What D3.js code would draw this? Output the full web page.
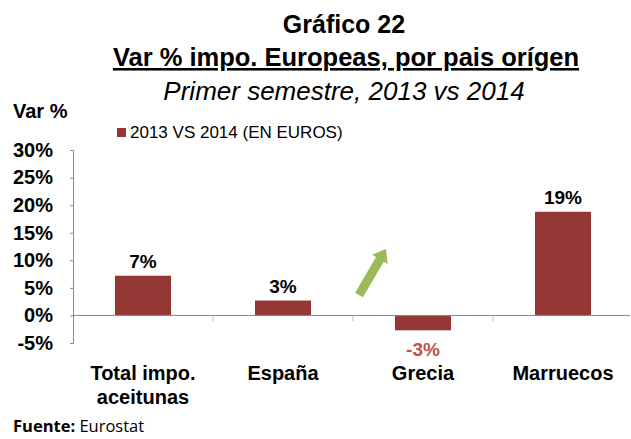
<!DOCTYPE html>
<html>
<head>
<meta charset="utf-8">
<script src="https://cdn.jsdelivr.net/npm/d3@7"></script>
<style>
  body { margin: 0; background: #fff; }
  svg { display: block; }
</style>
</head>
<body>
<svg id="chart"></svg>
<script>
const categories = [["Total impo.", "aceitunas"], ["España"], ["Grecia"], ["Marruecos"]];
const values = [7.2, 2.7, -2.7, 18.8];
const valueLabels = ["7%", "3%", "-3%", "19%"];
const yTicks = [-5, 0, 5, 10, 15, 20, 25, 30];
const seriesName = "2013 VS 2014 (EN EUROS)";

const width = 631, height = 439;
const svg = d3.select("#chart").attr("width", width).attr("height", height);
const font = "Liberation Sans, Arial, sans-serif";

const keys = categories.map(c => c.join(" "));
const x = d3.scaleBand().domain(keys).range([73, 633]);
const y = d3.scaleLinear().domain([-5, 30]).range([343, 150]);

// titles
svg.append("text").attr("x", 344).attr("y", 33).attr("text-anchor", "middle")
   .attr("font-family", font).attr("font-weight", "bold").attr("font-size", 25)
   .text("Gráfico 22");
svg.append("text").attr("x", 346).attr("y", 66).attr("text-anchor", "middle")
   .attr("font-family", font).attr("font-weight", "bold").attr("font-size", 25.5)
   .attr("text-decoration", "underline")
   .text("Var % impo. Europeas, por pais orígen");
svg.append("text").attr("x", 344).attr("y", 100).attr("text-anchor", "middle")
   .attr("font-family", font).attr("font-style", "italic").attr("font-size", 26)
   .text("Primer semestre, 2013 vs 2014");

svg.append("text").attr("x", 13).attr("y", 118)
   .attr("font-family", font).attr("font-weight", "bold").attr("font-size", 20)
   .text("Var %");

// legend
svg.append("rect").attr("x", 117).attr("y", 128).attr("width", 9).attr("height", 9).attr("fill", "#953735");
svg.append("text").attr("x", 130).attr("y", 138)
   .attr("font-family", font).attr("font-size", 17).text(seriesName);

// y axis
const yAxis = svg.append("g").attr("transform", "translate(73,0)")
   .call(d3.axisLeft(y).tickValues(yTicks).tickSize(3).tickPadding(17).tickFormat(d => d + "%"));
yAxis.select(".domain").attr("stroke", "#888");
yAxis.selectAll(".tick line").attr("stroke", "#888");
yAxis.selectAll("text").attr("font-family", font).attr("font-weight", "bold")
   .attr("font-size", 20).attr("fill", "#000");

// bars
svg.selectAll(".bar").data(values).enter().append("rect")
   .attr("class", "bar")
   .attr("x", (d, i) => x(keys[i]) + x.bandwidth() * 0.3)
   .attr("width", x.bandwidth() * 0.4)
   .attr("y", d => y(Math.max(0, d)))
   .attr("height", d => Math.abs(y(d) - y(0)))
   .attr("fill", "#953735");

// zero line + category ticks
svg.append("line").attr("x1", 73).attr("x2", 630).attr("y1", y(0)).attr("y2", y(0)).attr("stroke", "#888");
svg.selectAll(".ctick").data(keys.slice(1)).enter().append("line")
   .attr("x1", d => x(d)).attr("x2", d => x(d))
   .attr("y1", y(0)).attr("y2", y(0) + 6).attr("stroke", "#bbb");

// value labels
svg.selectAll(".vlab").data(values).enter().append("text")
   .attr("x", (d, i) => x(keys[i]) + x.bandwidth() / 2)
   .attr("y", d => d >= 0 ? y(d) - 8 : y(d) + 26)
   .attr("text-anchor", "middle")
   .attr("font-family", font).attr("font-weight", "bold").attr("font-size", 19)
   .attr("fill", d => d >= 0 ? "#000" : "#C0504D")
   .text((d, i) => valueLabels[i]);

// category labels
const cat = svg.selectAll(".clab").data(categories).enter().append("text")
   .attr("text-anchor", "middle")
   .attr("font-family", font).attr("font-weight", "bold").attr("font-size", 20);
cat.selectAll("tspan").data((d, i) => d.map(t => ({ t, i }))).enter().append("tspan")
   .attr("x", d => x(keys[d.i]) + x.bandwidth() / 2)
   .attr("y", (d, j) => 380 + j * 24)
   .text(d => d.t);

// arrow
const ax = 359, ay = 295, bx = 386, by = 249;
const ang = Math.atan2(by - ay, bx - ax);
const len = Math.hypot(bx - ax, by - ay);
const pts = [[0, -4.5], [len - 12, -4.5], [len - 12, -9], [len, 0], [len - 12, 9], [len - 12, 4.5], [0, 4.5]];
svg.append("polygon")
   .attr("points", pts.map(p => p.join(",")).join(" "))
   .attr("transform", `translate(${ax},${ay}) rotate(${ang * 180 / Math.PI})`)
   .attr("fill", "#9BBB59");

// source
const src = svg.append("text").attr("x", 13).attr("y", 432)
   .attr("font-family", "Open Sans, Noto Sans, sans-serif").attr("font-size", 16.5);
src.append("tspan").attr("font-weight", "bold").text("Fuente:");
src.append("tspan").text(" Eurostat");
</script>
</body>
</html>
